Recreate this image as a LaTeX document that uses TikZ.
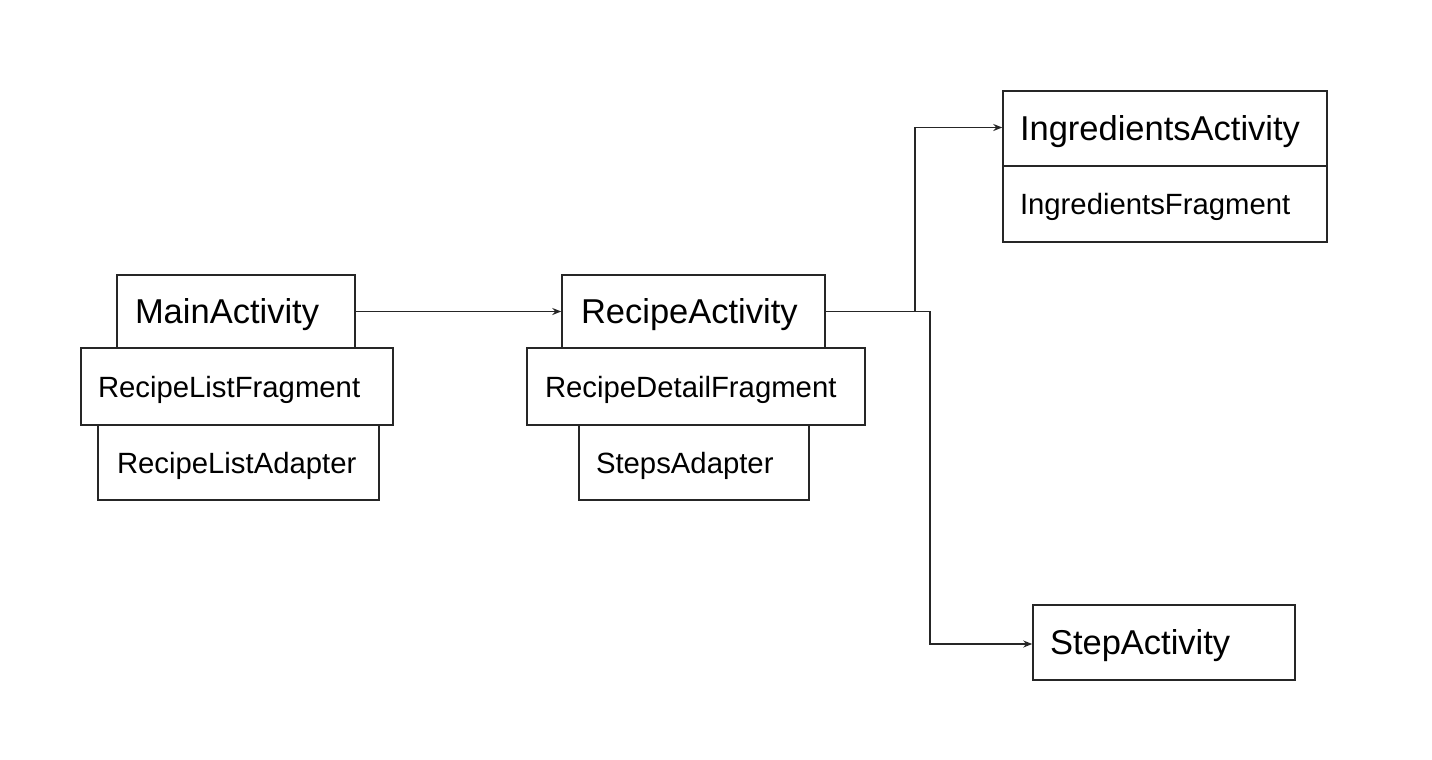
\documentclass[tikz,border=0pt]{standalone}
\usepackage{fontspec}
\setmainfont{Liberation Sans}
\usetikzlibrary{arrows.meta}
\begin{document}
\begin{tikzpicture}[x=1pt,y=-1pt,
  box/.style={draw=black!85, line width=1.5pt, fill=white, align=left, inner ysep=0pt, anchor=center},
  big/.style={font=\fontsize{34.5}{40}\selectfont, text height=25pt, text depth=0.3pt},
  small/.style={font=\fontsize{29.3}{34}\selectfont, text height=21.3pt, text depth=0.3pt},
  conn/.style={draw=black!85, line width=1.8pt, -{Stealth[length=9pt,width=7pt]}}]
\useasboundingbox (0,0) rectangle (1432,760);
% left group
\node[box, small, minimum width=281, minimum height=75, text width=243, inner xsep=19] (rla) at (238.5,462.5) {RecipeListAdapter};
\node[box, small, minimum width=312, minimum height=77, text width=278, inner xsep=17] (rlf) at (237,386.5) {RecipeListFragment};
\node[box, big, minimum width=238, minimum height=73, text width=202, inner xsep=18] (main) at (236,311.5) {MainActivity};
% middle group
\node[box, small, minimum width=230, minimum height=75, text width=196, inner xsep=17] (sa) at (694,462.5) {StepsAdapter};
\node[box, small, minimum width=338, minimum height=77, text width=302, inner xsep=18] (rdf) at (696,386.5) {RecipeDetailFragment};
\node[box, big, minimum width=263, minimum height=73, text width=225, inner xsep=19] (recipe) at (693.5,311.5) {RecipeActivity};
% right group
\node[box, big, minimum width=324, minimum height=75, text width=290, inner xsep=17] (ing) at (1165,128.5) {IngredientsActivity};
\node[box, small, minimum width=324, minimum height=76, text width=290, inner xsep=17] (ingf) at (1165,204) {IngredientsFragment};
\node[box, big, minimum width=262, minimum height=75, text width=228, inner xsep=17] (step) at (1164,642.5) {StepActivity};
% connectors
\coordinate (j1) at (915,311.5);
\coordinate (j2) at (930,311.5);
\draw[conn] (main.east) -- (recipe.west);
\draw[conn] (recipe.east) -- (j1) |- (ing.west |- 0,127.5);
\draw[conn] (recipe.east) -- (j2) |- (step.west |- 0,644);
\end{tikzpicture}
\end{document}
